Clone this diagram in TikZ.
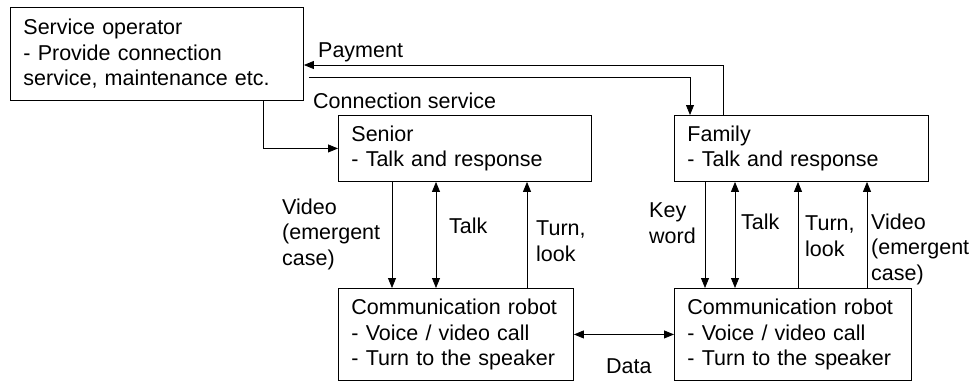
\documentclass[tikz,border=0pt]{standalone}
\usepackage{fontspec}
\setmainfont{Liberation Sans}
\usetikzlibrary{arrows.meta, positioning}

\begin{document}
\begin{tikzpicture}[x=1pt, y=-1pt,
  box/.style={draw, line width=0.9pt, anchor=north west, align=left, inner xsep=13pt, inner ysep=0pt, font=\fontsize{21.5}{25.5}\selectfont},
  lbl/.style={anchor=west, align=left, inner sep=0pt, font=\fontsize{21.5}{25.5}\selectfont},
  flow/.style={line width=0.8pt, >={Triangle[length=10pt,width=8pt]}}]
\useasboundingbox (0,0) rectangle (972,383);

% Boxes
\node[box, text width=267pt, minimum height=93pt] (sop) at (10,7) {Service operator\\- Provide connection\\service, maintenance etc.};
\node[box, text width=227pt, minimum height=66pt] (senior) at (338,115) {Senior\\- Talk and response};
\node[box, text width=228pt, minimum height=66pt] (family) at (674,115) {Family\\- Talk and response};
\node[box, text width=209pt, minimum height=92pt] (robotL) at (338,288) {Communication robot\\- Voice / video call\\- Turn to the speaker};
\node[box, text width=211pt, minimum height=92pt] (robotR) at (674,288) {Communication robot\\- Voice / video call\\- Turn to the speaker};

% Payment and connection service
\coordinate (payx) at (723,65);
\coordinate (conx) at (690,77);
\coordinate (svcx) at (263,150);
\draw[flow, ->] (family.north -| payx) |- (sop.east |- payx);
\draw[flow, ->, shorten <=5pt] (sop.east |- conx) -| (family.north -| conx);
\draw[flow, ->] (sop.south -| svcx) |- (senior.west);
\node[lbl] (pay) at (318,52) {Payment};
\node[lbl] (consvc) at (313,101) {Connection service};

% Senior side
\foreach \cx/\tips [count=\i] in {392/->, 436/<->, 527/<-} {
  \coordinate (sx\i) at (\cx,0);
  \draw[flow, \tips] (senior.south -| sx\i) -- (robotL.north -| sx\i);
}
\node[lbl] (vidL) at (282,234) {Video\\(emergent\\case)};
\node[lbl] (talkL) at (449,226) {Talk};
\node[lbl] (turnL) at (536,241) {Turn,\\look};

% Family side
\foreach \cx/\tips [count=\i] in {705/->, 735/<->, 798/<-, 867/<-} {
  \coordinate (fx\i) at (\cx,0);
  \draw[flow, \tips] (family.south -| fx\i) -- (robotR.north -| fx\i);
}
\node[lbl] (key) at (649,223) {Key\\word};
\node[lbl] (talkR) at (741,222) {Talk};
\node[lbl] (turnR) at (805,236) {Turn,\\look};
\node[lbl] (vidR) at (871,249) {Video\\(emergent\\case)};

% Data link
\draw[flow, <->] (robotL.east) -- (robotR.west);
\node[lbl] (data) at (606,366) {Data};

\end{tikzpicture}
\end{document}
